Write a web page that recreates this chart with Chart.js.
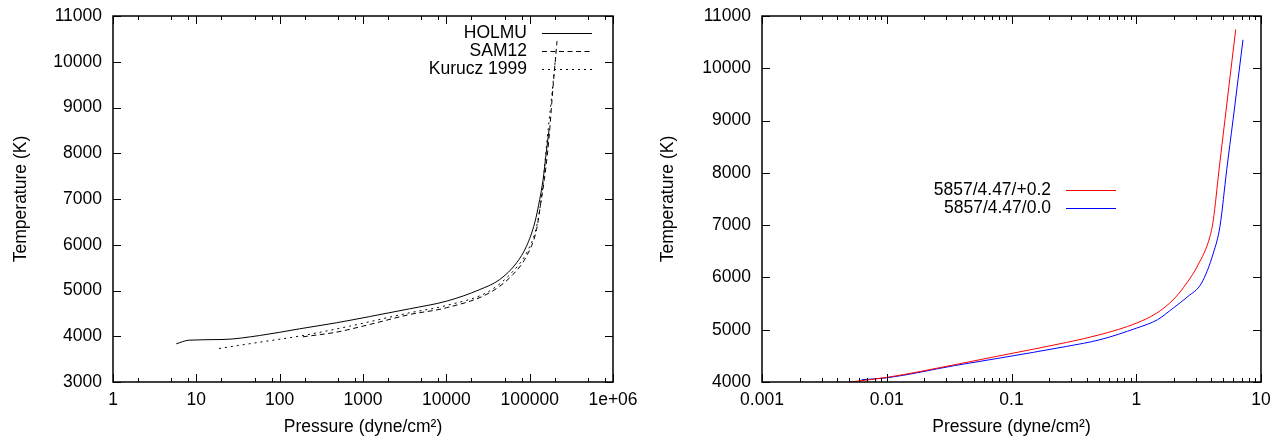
<!DOCTYPE html>
<html>
<head>
<meta charset="utf-8">
<script src="https://cdn.jsdelivr.net/npm/chart.js@4.4.1/dist/chart.umd.min.js"></script>
<style>
  html, body { margin: 0; padding: 0; background: #fff; overflow: hidden; }
  .wrap { position: absolute; top: 0; height: 439px; }
  #left { left: 0; width: 640px; }
  #right { left: 640px; width: 645px; }
</style>
</head>
<body>
<div class="wrap" id="left"><canvas id="chart-left"></canvas></div>
<div class="wrap" id="right"><canvas id="chart-right"></canvas></div>
<script>
// left panel: model atmospheres
var holmuP = [5.75, 8.15, 20.9, 57.5, 174, 478, 1200, 3630, 10000, 25300, 43700, 69700, 91600, 115000, 132000, 145000, 158000, 171000];
var holmuT = [3835, 3914, 3929, 4016, 4163, 4294, 4430, 4600, 4766, 5022, 5240, 5605, 5968, 6480, 6990, 7426, 8010, 8519];

var sam12P = [190, 478, 1200, 3630, 10000, 33000, 63000, 91600, 121000, 138000, 150000, 170000, 191000, 213000];
var sam12T = [3988, 4089, 4257, 4475, 4622, 4950, 5350, 5750, 6333, 6990, 7426, 8300, 9465, 10450];

var kuruczP = [18.7, 57.5, 190, 690, 3630, 10000, 33000, 63000, 91600, 121000, 140000, 160000, 185000, 205000];
var kuruczT = [3732, 3870, 4016, 4220, 4513, 4672, 4990, 5420, 5820, 6400, 7100, 8200, 9300, 10100];

var leftXTicks = [1, 10, 100, 1000, 10000, 100000, 1000000];
var leftXLabels = ["1", "10", "100", "1000", "10000", "100000", "1e+06"];

// right panel: 5857/4.47 models
var redP = [0.00507, 0.01, 0.0352, 0.0809, 0.2767, 0.512, 1.009, 1.459, 1.98, 2.54, 3.13, 3.90, 4.15, 4.61, 5.14, 5.53, 6.27];
var redT = [4000, 4088, 4331, 4503, 4757, 4905, 5128, 5319, 5574, 5893, 6240, 6784, 7103, 8059, 9015, 9652, 10742];

var blueP = [0.00629, 0.01, 0.0352, 0.0809, 0.2767, 0.512, 1.009, 1.48, 1.98, 2.6, 3.34, 4.15, 4.69, 5.31, 5.97, 7.17];
var blueT = [4044, 4080, 4315, 4459, 4681, 4809, 5032, 5191, 5415, 5637, 5893, 6466, 6979, 8059, 9015, 10545];

var rightXTicks = [0.001, 0.01, 0.1, 1, 10];
var rightXLabels = ["0.001", "0.01", "0.1", "1", "10"];

var FONT = "'Liberation Sans', Arial, Helvetica, sans-serif";
var FONT_SIZE = 17.5;

function toPoints(xs, ys) {
  return xs.map(function (x, i) { return { x: x, y: ys[i] }; });
}

/**
 * Draws the gnuplot style frame, inward ticks and the legend.
 */
var framePlugin = {
  id: "frame",
  afterDraw: function (chart, args, opts) {
    var ctx = chart.ctx;
    var a = chart.chartArea;
    var xs = chart.scales.x;
    var ys = chart.scales.y;

    ctx.save();
    ctx.strokeStyle = "#000";
    ctx.lineWidth = 1;
    ctx.beginPath();

    // x ticks, bottom and top
    opts.xTicks.forEach(function (v, i) {
      var px = Math.round(xs.getPixelForValue(v)) + 0.5;
      ctx.moveTo(px, a.bottom); ctx.lineTo(px, a.bottom - 8);
      ctx.moveTo(px, a.top); ctx.lineTo(px, a.top + 8);
      if (i < opts.xTicks.length - 1) {
        opts.minor.forEach(function (m) {
          var mx = Math.round(xs.getPixelForValue(v * m)) + 0.5;
          ctx.moveTo(mx, a.bottom); ctx.lineTo(mx, a.bottom - 4);
          ctx.moveTo(mx, a.top); ctx.lineTo(mx, a.top + 4);
        });
      }
    });

    // y ticks, left and right
    ys.ticks.forEach(function (t) {
      var py = Math.round(ys.getPixelForValue(t.value)) + 0.5;
      ctx.moveTo(a.left, py); ctx.lineTo(a.left + 8, py);
      ctx.moveTo(a.right, py); ctx.lineTo(a.right - 8, py);
    });
    ctx.stroke();

    ctx.lineWidth = 1.5;
    ctx.strokeRect(a.left, a.top, a.right - a.left, a.bottom - a.top);

    // legend: text right aligned, sample line to its right
    ctx.font = FONT_SIZE + "px " + FONT;
    ctx.textAlign = "right";
    ctx.textBaseline = "middle";
    ctx.fillStyle = "#000";
    chart.data.datasets.forEach(function (ds, i) {
      var y = opts.legendTop + i * opts.legendRow;
      ctx.fillText(ds.label, opts.legendX, y);
      ctx.beginPath();
      ctx.strokeStyle = ds.borderColor;
      ctx.lineWidth = ds.borderWidth;
      ctx.setLineDash(ds.borderDash || []);
      ctx.moveTo(opts.legendX + 15, y + 0.5);
      ctx.lineTo(opts.legendX + 65, y + 0.5);
      ctx.stroke();
      ctx.setLineDash([]);
    });

    ctx.restore();
  }
};

function lineSet(label, xs, ys, color, dash) {
  return {
    label: label,
    data: toPoints(xs, ys),
    borderColor: color,
    borderWidth: 1,
    borderDash: dash,
    pointRadius: 0,
    fill: false,
    cubicInterpolationMode: "monotone"
  };
}

function createChart(canvasId, datasets, cfg) {
  return new Chart(document.getElementById(canvasId), {
    type: "line",
    data: { datasets: datasets },
    options: {
      responsive: true,
      maintainAspectRatio: false,
      animation: false,
      layout: { padding: { left: 0, top: 16, right: cfg.padRight, bottom: 0 } },
      plugins: {
        legend: { display: false },
        tooltip: { enabled: false },
        frame: {
          xTicks: cfg.xTicks,
          minor: cfg.minor,
          legendX: cfg.legendX,
          legendTop: cfg.legendTop,
          legendRow: 18
        }
      },
      scales: {
        x: {
          type: "logarithmic",
          min: cfg.xTicks[0],
          max: cfg.xTicks[cfg.xTicks.length - 1],
          afterBuildTicks: function (s) {
            s.ticks = cfg.xTicks.map(function (v) { return { value: v }; });
          },
          afterFit: function (s) {
            // fixed box: labels may spill into the margin
            s.height = 57;
            s.paddingLeft = 0;
            s.paddingRight = 0;
          },
          grid: { display: false, drawTicks: false },
          border: { display: false },
          ticks: {
            autoSkip: false,
            maxRotation: 0,
            padding: 8,
            color: "#000",
            font: { family: FONT, size: FONT_SIZE },
            callback: function (v, i) { return cfg.xLabels[i]; }
          },
          title: {
            display: true,
            text: "Pressure (dyne/cm²)",
            color: "#000",
            font: { family: FONT, size: FONT_SIZE },
            padding: { top: 0, bottom: 1 }
          }
        },
        y: {
          type: "linear",
          min: cfg.yMin,
          max: 11000,
          afterFit: function (s) {
            s.width = cfg.yWidth;
            s.paddingTop = 0;
            s.paddingBottom = 0;
          },
          grid: { display: false, drawTicks: false },
          border: { display: false },
          ticks: {
            stepSize: 1000,
            padding: 11,
            color: "#000",
            font: { family: FONT, size: FONT_SIZE },
            callback: function (v) { return String(v); }
          },
          title: {
            display: true,
            text: "Temperature (K)",
            color: "#000",
            font: { family: FONT, size: FONT_SIZE },
            padding: { top: cfg.yTitlePad, bottom: 0 }
          }
        }
      }
    },
    plugins: [framePlugin]
  });
}

createChart("chart-left", [
  lineSet("HOLMU", holmuP, holmuT, "#000", []),
  lineSet("SAM12", sam12P, sam12T, "#000", [5, 3.5]),
  lineSet("Kurucz 1999", kuruczP, kuruczT, "#000", [2, 4])
], {
  xTicks: leftXTicks,
  xLabels: leftXLabels,
  minor: [2, 5, 8],
  yMin: 3000,
  yWidth: 113,
  yTitlePad: 10.5,
  padRight: 27,
  legendX: 527,
  legendTop: 33
});

createChart("chart-right", [
  lineSet("5857/4.47/+0.2", redP, redT, "#ff0000", []),
  lineSet("5857/4.47/0.0", blueP, blueT, "#0000ff", [])
], {
  xTicks: rightXTicks,
  xLabels: rightXLabels,
  minor: [2, 3, 4, 5, 6, 7, 8, 9],
  yMin: 4000,
  yWidth: 122,
  yTitlePad: 17.5,
  padRight: 24,
  legendX: 411,
  legendTop: 190
});
</script>
</body>
</html>
